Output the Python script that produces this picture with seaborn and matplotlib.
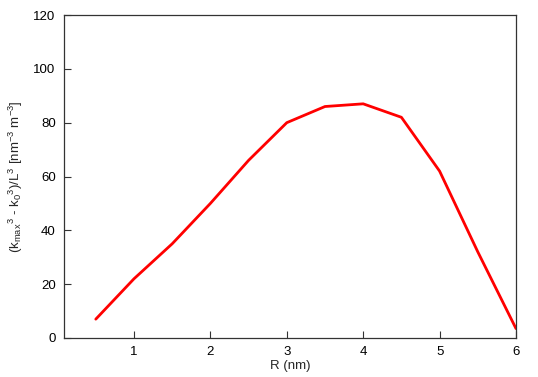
import numpy as np
import pandas as pd
import matplotlib
matplotlib.use('Agg')
import matplotlib.pyplot as plt
import seaborn as sns

# Data
radius = [0.5, 1.0, 1.5, 2.0, 2.5, 3.0, 3.5, 4.0, 4.5, 5.0, 5.5, 6.0]
density = [7.0, 22.0, 35.0, 50.0, 66.0, 80.0, 86.0, 87.0, 82.0, 62.0, 32.0, 3.5]

df = pd.DataFrame({'R': radius, 'val': density})

sns.set_style('ticks')
plt.rcParams['font.family'] = ['Liberation Sans', 'DejaVu Sans']
plt.rcParams['mathtext.fontset'] = 'custom'
plt.rcParams['mathtext.rm'] = 'Liberation Sans'
plt.rcParams['mathtext.it'] = 'Liberation Sans'

fig = plt.figure(figsize=(5.38, 3.77), dpi=100)
ax = fig.add_axes([64 / 538, 1 - 338 / 377, (516 - 64) / 538, (338 - 15) / 377])

sns.lineplot(data=df, x='R', y='val', color='#ff0000', linewidth=2, ax=ax)

ax.set_xlim(0.084, 6)
ax.set_ylim(0, 120)
ax.set_xticks([1, 2, 3, 4, 5, 6])
ax.set_yticks(range(0, 121, 20))
ax.tick_params(direction='in', length=5, width=0.8, labelsize=9.5, colors='#333333',
               labelcolor='black', pad=6)
for s in ax.spines.values():
    s.set_linewidth(0.9)
    s.set_color('#333333')

ax.set_xlabel('R (nm)', fontsize=9.5, labelpad=1)
ax.set_ylabel(r'(k$_{\rm max}$$^{3}$ - k$_0$$^{3}$)/L$^{3}$ [nm$^{-3}$ m$^{-3}$]',
              fontsize=9.5, labelpad=6)

fig.savefig('out.png', dpi=100)
